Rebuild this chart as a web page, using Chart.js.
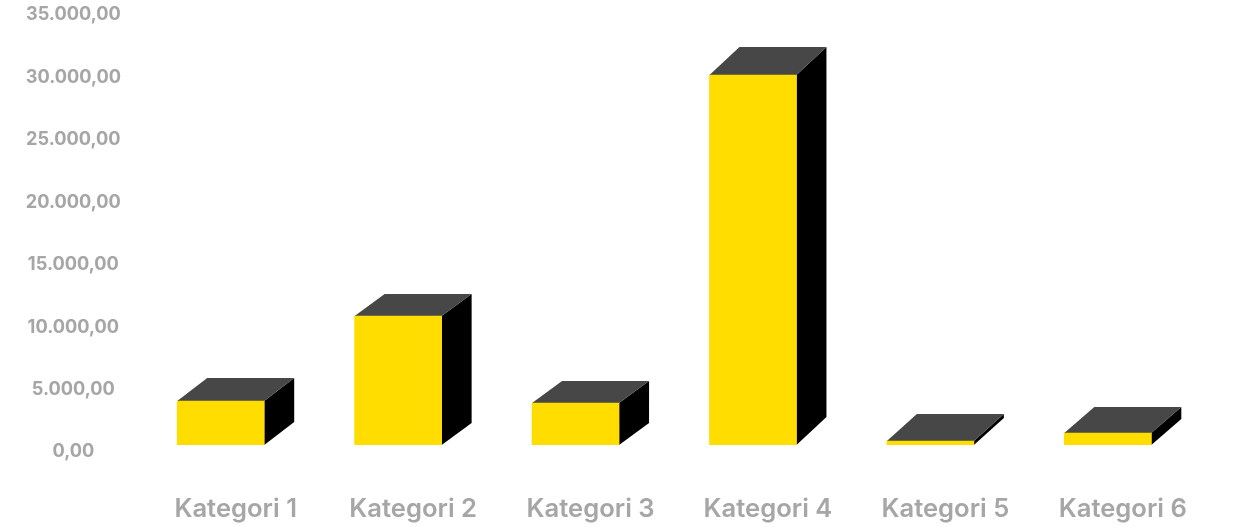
<!DOCTYPE html>
<html>
<head>
<meta charset="utf-8">
<style>
  html, body { margin: 0; padding: 0; background: #fff; }
  canvas { display: block; }
</style>
<script src="https://cdn.jsdelivr.net/npm/chart.js@4/dist/chart.umd.min.js"></script>
</head>
<body>
<canvas id="chart" width="1239" height="530"></canvas>
<script>
// values
var categories = ['Kategori 1', 'Kategori 2', 'Kategori 3', 'Kategori 4', 'Kategori 5', 'Kategori 6'];
var values = [3520, 10330, 3360, 29630, 320, 960];
var tickLabels = ['0,00', '5.000,00', '10.000,00', '15.000,00', '20.000,00', '25.000,00', '30.000,00', '35.000,00'];

/* -------------------- top and side faces of the boxes -------------------- */
var boxFaces = {
  id: 'boxFaces',
  beforeDatasetsDraw: function (chart, args, opts) {
    var ctx = chart.ctx;
    chart.getDatasetMeta(0).data.forEach(function (bar, i) {
      var left = bar.x - bar.width / 2;
      var right = bar.x + bar.width / 2;
      var dx = opts.depthX;
      var dy = opts.depthY[i];

      // side
      ctx.fillStyle = opts.sideColor;
      ctx.beginPath();
      ctx.moveTo(right, bar.y);
      ctx.lineTo(right + dx, bar.y - dy);
      ctx.lineTo(right + dx, bar.base - dy);
      ctx.lineTo(right, bar.base);
      ctx.closePath();
      ctx.fill();

      // top
      ctx.fillStyle = opts.topColor;
      ctx.beginPath();
      ctx.moveTo(left, bar.y);
      ctx.lineTo(left + dx, bar.y - dy);
      ctx.lineTo(right + dx, bar.y - dy);
      ctx.lineTo(right, bar.y);
      ctx.closePath();
      ctx.fill();
    });
  }
};

new Chart(document.getElementById('chart'), {
  type: 'bar',
  plugins: [boxFaces],
  data: {
    labels: categories,
    datasets: [{ data: values, backgroundColor: '#FFDD00', barThickness: 87 }]
  },
  options: {
    responsive: false,
    animation: false,
    layout: { padding: { top: 8, right: 42.5 } },
    plugins: {
      legend: { display: false },
      tooltip: { enabled: false },
      boxFaces: { depthX: 30, depthY: [23, 22, 22, 28, 27, 26], topColor: '#474747', sideColor: '#000000' }
    },
    scales: {
      x: {
        grid: { display: false },
        border: { display: false },
        afterFit: function (scale) { scale.height = 85; },
        ticks: {
          color: '#A6A6A6',
          font: { family: 'Inter', size: 25.6, weight: '600' },
          padding: 41,
          labelOffset: 15,
          maxRotation: 0
        }
      },
      y: {
        min: 0,
        max: 35000,
        grid: { display: false },
        border: { display: false },
        // the top label may stick out above the plot area
        afterFit: function (scale) { scale.width = 132; scale.paddingTop = 0; scale.paddingBottom = 0; },
        ticks: {
          stepSize: 5000,
          color: '#A6A6A6',
          font: { family: 'Inter', size: 18.2, weight: '700' },
          crossAlign: 'center',
          padding: 3,
          labelOffset: 7,
          callback: function (v) { return tickLabels[v / 5000]; }
        }
      }
    }
  }
});
</script>
</body>
</html>
